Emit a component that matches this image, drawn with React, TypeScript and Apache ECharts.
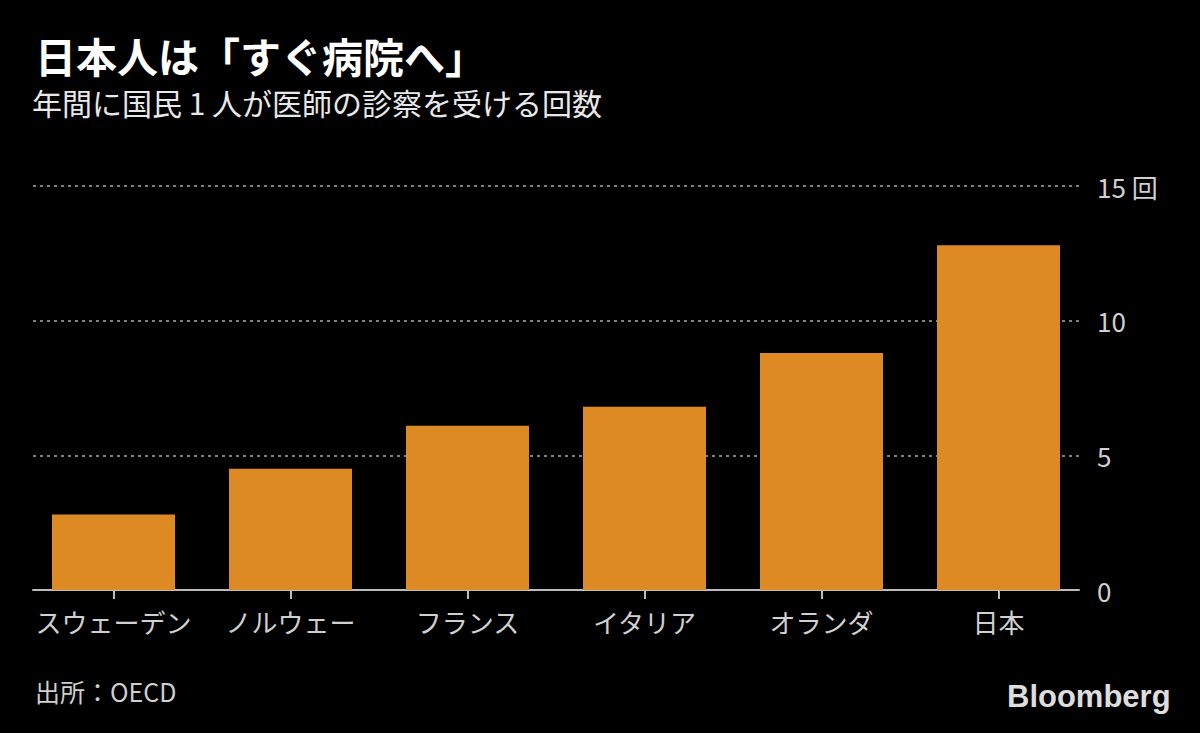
import React, { useEffect, useRef } from "react";
import * as echarts from "echarts";

const categories = ["スウェーデン", "ノルウェー", "フランス", "イタリア", "オランダ", "日本"];
const visits = [2.8, 4.5, 6.1, 6.8, 8.8, 12.8];
const yTicks = [0, 5, 10, 15];

const FONT = "'Noto Sans CJK JP', 'Noto Sans', sans-serif";

export default function App() {
  const ref = useRef<HTMLDivElement>(null);
  useEffect(() => {
    if (!ref.current) return;
    document.body.style.margin = "0";
    const chart = echarts.init(ref.current, null, { renderer: "svg" });
    chart.setOption({
      animation: false,
      backgroundColor: "#000000",
      textStyle: { fontFamily: FONT },
      graphic: [
        {
          type: "text",
          left: 35,
          top: 34,
          style: { text: "日本人は「すぐ病院へ」", fill: "#ffffff", font: `bold 41px ${FONT}` },
        },
        {
          type: "text",
          left: 32,
          top: 87,
          style: { text: "年間に国民 1 人が医師の診察を受ける回数", fill: "#e8e8e8", font: `30px ${FONT}` },
        },
        {
          type: "text",
          left: 35,
          top: 678,
          style: { text: "出所：OECD", fill: "#d0d0d0", font: `25px ${FONT}` },
        },
        {
          type: "text",
          left: 1007,
          top: 681,
          style: { text: "Bloomberg", fill: "#dddddd", font: `bold 31px 'Liberation Sans', Arial, sans-serif` },
        },
      ],
      grid: [
        { left: 25, right: 113, top: 186, bottom: 143 },
        { left: 33, right: 121, top: 186, bottom: 143 },
      ],
      xAxis: [
        {
          type: "category",
          gridIndex: 0,
          data: categories,
          axisLine: { show: false },
          axisTick: { show: true, alignWithLabel: true, length: 9, lineStyle: { color: "#bbbbbb", width: 2 } },
          axisLabel: { color: "#d0d0d0", fontSize: 26, margin: 18, interval: 0, fontFamily: FONT },
        },
        {
          type: "value",
          gridIndex: 1,
          min: 0,
          max: 1,
          axisLine: { show: true, onZero: false, lineStyle: { color: "#bbbbbb", width: 2 } },
          axisTick: { show: false },
          axisLabel: { show: false },
          splitLine: { show: false },
        },
      ],
      yAxis: [
        {
          type: "value",
          gridIndex: 0,
          min: 0,
          max: 15,
          interval: 5,
          show: false,
          splitLine: { show: false },
        },
        {
          type: "value",
          gridIndex: 1,
          position: "right",
          min: 0,
          max: 15,
          interval: 5,
          axisLine: { show: false },
          axisTick: { show: false },
          axisLabel: {
            color: "#d0d0d0",
            fontSize: 26,
            margin: 18,
            align: "left",
            fontFamily: FONT,
            formatter: (v: number) => (v === yTicks[yTicks.length - 1] ? `${v} 回` : `${v}`),
          },
          splitLine: {
            show: true,
            showMinLine: false,
            lineStyle: { color: "#808080", width: 2, type: [3, 4] },
          },
        },
      ],
      series: [
        {
          type: "bar",
          xAxisIndex: 0,
          yAxisIndex: 0,
          data: visits,
          barWidth: 123,
          itemStyle: { color: "#DE8A24" },
          z: 3,
        },
      ],
    });
    return () => chart.dispose();
  }, []);
  return <div ref={ref} style={{ width: 1200, height: 733 }} />;
}
